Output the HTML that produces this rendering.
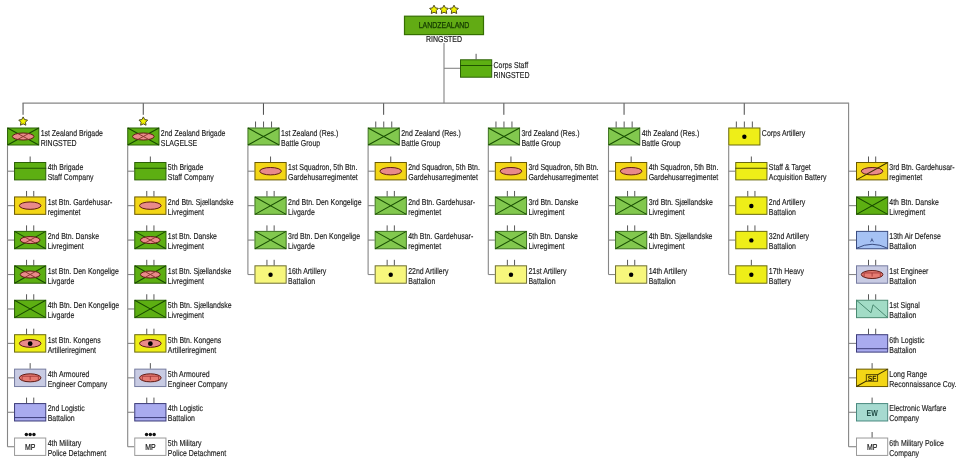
<!DOCTYPE html>
<html><head><meta charset="utf-8"><style>
html,body{margin:0;padding:0;background:#fff;width:960px;height:465px;overflow:hidden}
svg{display:block;will-change:transform}
text{font-family:"Liberation Sans",sans-serif;text-rendering:geometricPrecision}
</style></head><body>
<svg width="960" height="465" viewBox="0 0 960 465">
<line x1="444" y1="43" x2="444" y2="103.3" stroke="#969696" stroke-width="1.3"/>
<line x1="444.00" y1="68.30" x2="460.00" y2="68.30" stroke="#868686" stroke-width="1.1"/>
<line x1="22.45" y1="103.10" x2="849.10" y2="103.10" stroke="#868686" stroke-width="1.3"/>
<line x1="848.60" y1="103.30" x2="848.60" y2="446.72" stroke="#868686" stroke-width="1.1"/>
<line x1="848.60" y1="171.20" x2="856.00" y2="171.20" stroke="#868686" stroke-width="1.1"/>
<line x1="848.60" y1="205.64" x2="856.00" y2="205.64" stroke="#868686" stroke-width="1.1"/>
<line x1="848.60" y1="240.08" x2="856.00" y2="240.08" stroke="#868686" stroke-width="1.1"/>
<line x1="848.60" y1="274.52" x2="856.00" y2="274.52" stroke="#868686" stroke-width="1.1"/>
<line x1="848.60" y1="308.96" x2="856.00" y2="308.96" stroke="#868686" stroke-width="1.1"/>
<line x1="848.60" y1="343.40" x2="856.00" y2="343.40" stroke="#868686" stroke-width="1.1"/>
<line x1="848.60" y1="377.84" x2="856.00" y2="377.84" stroke="#868686" stroke-width="1.1"/>
<line x1="848.60" y1="412.28" x2="856.00" y2="412.28" stroke="#868686" stroke-width="1.1"/>
<line x1="848.60" y1="446.72" x2="856.00" y2="446.72" stroke="#868686" stroke-width="1.1"/>
<line x1="23.05" y1="103.3" x2="23.05" y2="114.8" stroke="#4a4a4a" stroke-width="1"/>
<line x1="7.50" y1="145.50" x2="7.50" y2="446.72" stroke="#868686" stroke-width="1.1"/>
<line x1="7.50" y1="171.20" x2="14.05" y2="171.20" stroke="#868686" stroke-width="1.1"/>
<line x1="7.50" y1="205.64" x2="14.05" y2="205.64" stroke="#868686" stroke-width="1.1"/>
<line x1="7.50" y1="240.08" x2="14.05" y2="240.08" stroke="#868686" stroke-width="1.1"/>
<line x1="7.50" y1="274.52" x2="14.05" y2="274.52" stroke="#868686" stroke-width="1.1"/>
<line x1="7.50" y1="308.96" x2="14.05" y2="308.96" stroke="#868686" stroke-width="1.1"/>
<line x1="7.50" y1="343.40" x2="14.05" y2="343.40" stroke="#868686" stroke-width="1.1"/>
<line x1="7.50" y1="377.84" x2="14.05" y2="377.84" stroke="#868686" stroke-width="1.1"/>
<line x1="7.50" y1="412.28" x2="14.05" y2="412.28" stroke="#868686" stroke-width="1.1"/>
<line x1="7.50" y1="446.72" x2="14.05" y2="446.72" stroke="#868686" stroke-width="1.1"/>
<line x1="143.25" y1="103.3" x2="143.25" y2="114.8" stroke="#4a4a4a" stroke-width="1"/>
<line x1="127.70" y1="145.50" x2="127.70" y2="446.72" stroke="#868686" stroke-width="1.1"/>
<line x1="127.70" y1="171.20" x2="134.25" y2="171.20" stroke="#868686" stroke-width="1.1"/>
<line x1="127.70" y1="205.64" x2="134.25" y2="205.64" stroke="#868686" stroke-width="1.1"/>
<line x1="127.70" y1="240.08" x2="134.25" y2="240.08" stroke="#868686" stroke-width="1.1"/>
<line x1="127.70" y1="274.52" x2="134.25" y2="274.52" stroke="#868686" stroke-width="1.1"/>
<line x1="127.70" y1="308.96" x2="134.25" y2="308.96" stroke="#868686" stroke-width="1.1"/>
<line x1="127.70" y1="343.40" x2="134.25" y2="343.40" stroke="#868686" stroke-width="1.1"/>
<line x1="127.70" y1="377.84" x2="134.25" y2="377.84" stroke="#868686" stroke-width="1.1"/>
<line x1="127.70" y1="412.28" x2="134.25" y2="412.28" stroke="#868686" stroke-width="1.1"/>
<line x1="127.70" y1="446.72" x2="134.25" y2="446.72" stroke="#868686" stroke-width="1.1"/>
<line x1="263.45" y1="103.3" x2="263.45" y2="114.8" stroke="#4a4a4a" stroke-width="1"/>
<line x1="247.90" y1="145.50" x2="247.90" y2="274.52" stroke="#868686" stroke-width="1.1"/>
<line x1="247.90" y1="171.20" x2="254.45" y2="171.20" stroke="#868686" stroke-width="1.1"/>
<line x1="247.90" y1="205.64" x2="254.45" y2="205.64" stroke="#868686" stroke-width="1.1"/>
<line x1="247.90" y1="240.08" x2="254.45" y2="240.08" stroke="#868686" stroke-width="1.1"/>
<line x1="247.90" y1="274.52" x2="254.45" y2="274.52" stroke="#868686" stroke-width="1.1"/>
<line x1="383.65" y1="103.3" x2="383.65" y2="114.8" stroke="#4a4a4a" stroke-width="1"/>
<line x1="368.10" y1="145.50" x2="368.10" y2="274.52" stroke="#868686" stroke-width="1.1"/>
<line x1="368.10" y1="171.20" x2="374.65" y2="171.20" stroke="#868686" stroke-width="1.1"/>
<line x1="368.10" y1="205.64" x2="374.65" y2="205.64" stroke="#868686" stroke-width="1.1"/>
<line x1="368.10" y1="240.08" x2="374.65" y2="240.08" stroke="#868686" stroke-width="1.1"/>
<line x1="368.10" y1="274.52" x2="374.65" y2="274.52" stroke="#868686" stroke-width="1.1"/>
<line x1="503.85" y1="103.3" x2="503.85" y2="114.8" stroke="#4a4a4a" stroke-width="1"/>
<line x1="488.30" y1="145.50" x2="488.30" y2="274.52" stroke="#868686" stroke-width="1.1"/>
<line x1="488.30" y1="171.20" x2="494.85" y2="171.20" stroke="#868686" stroke-width="1.1"/>
<line x1="488.30" y1="205.64" x2="494.85" y2="205.64" stroke="#868686" stroke-width="1.1"/>
<line x1="488.30" y1="240.08" x2="494.85" y2="240.08" stroke="#868686" stroke-width="1.1"/>
<line x1="488.30" y1="274.52" x2="494.85" y2="274.52" stroke="#868686" stroke-width="1.1"/>
<line x1="624.05" y1="103.3" x2="624.05" y2="114.8" stroke="#4a4a4a" stroke-width="1"/>
<line x1="608.50" y1="145.50" x2="608.50" y2="274.52" stroke="#868686" stroke-width="1.1"/>
<line x1="608.50" y1="171.20" x2="615.05" y2="171.20" stroke="#868686" stroke-width="1.1"/>
<line x1="608.50" y1="205.64" x2="615.05" y2="205.64" stroke="#868686" stroke-width="1.1"/>
<line x1="608.50" y1="240.08" x2="615.05" y2="240.08" stroke="#868686" stroke-width="1.1"/>
<line x1="608.50" y1="274.52" x2="615.05" y2="274.52" stroke="#868686" stroke-width="1.1"/>
<line x1="744.25" y1="103.3" x2="744.25" y2="114.8" stroke="#4a4a4a" stroke-width="1"/>
<line x1="728.70" y1="145.50" x2="728.70" y2="274.52" stroke="#868686" stroke-width="1.1"/>
<line x1="728.70" y1="171.20" x2="735.25" y2="171.20" stroke="#868686" stroke-width="1.1"/>
<line x1="728.70" y1="205.64" x2="735.25" y2="205.64" stroke="#868686" stroke-width="1.1"/>
<line x1="728.70" y1="240.08" x2="735.25" y2="240.08" stroke="#868686" stroke-width="1.1"/>
<line x1="728.70" y1="274.52" x2="735.25" y2="274.52" stroke="#868686" stroke-width="1.1"/>
<polygon points="434.00,5.20 435.41,7.86 438.37,8.38 436.27,10.54 436.70,13.52 434.00,12.19 431.30,13.52 431.73,10.54 429.63,8.38 432.59,7.86" fill="#f0f000" stroke="#4e4a24" stroke-width="1" stroke-linejoin="miter"/>
<polygon points="444.00,5.20 445.41,7.86 448.37,8.38 446.27,10.54 446.70,13.52 444.00,12.19 441.30,13.52 441.73,10.54 439.63,8.38 442.59,7.86" fill="#f0f000" stroke="#4e4a24" stroke-width="1" stroke-linejoin="miter"/>
<polygon points="454.00,5.20 455.41,7.86 458.37,8.38 456.27,10.54 456.70,13.52 454.00,12.19 451.30,13.52 451.73,10.54 449.63,8.38 452.59,7.86" fill="#f0f000" stroke="#4e4a24" stroke-width="1" stroke-linejoin="miter"/>
<rect x="404.5" y="16.2" width="79" height="18.4" fill="#62ab14" stroke="#356f00" stroke-width="1.2"/>
<text transform="translate(444,28.1) scale(0.81,1)" font-size="8.6" fill="#143a00" stroke="#143a00" stroke-width="0.25" text-anchor="middle">LANDZEALAND</text>
<text transform="translate(444,42) scale(0.81,1)" font-size="8.6" fill="#1e1e1e" stroke="#1e1e1e" stroke-width="0.22" text-anchor="middle">RINGSTED</text>
<rect x="460.50" y="59.80" width="31.20" height="17.40" fill="#5daf12" stroke="#2c6206" stroke-width="1"/>
<line x1="460.00" y1="65.50" x2="492.20" y2="65.50" stroke="#1f5200" stroke-width="1.1"/>
<line x1="476.10" y1="53.80" x2="476.10" y2="59.30" stroke="#3a3a3a" stroke-width="0.85"/>
<text transform="translate(493.50,67.80) scale(0.81,1)" font-size="8.6" fill="#1e1e1e" stroke="#1e1e1e" stroke-width="0.16" text-anchor="start">Corps Staff</text>
<text transform="translate(493.50,77.80) scale(0.81,1)" font-size="8.6" fill="#1e1e1e" stroke="#1e1e1e" stroke-width="0.16" text-anchor="start">RINGSTED</text>
<rect x="7.55" y="128.00" width="31.20" height="17.00" fill="#5daf12" stroke="#2c6206" stroke-width="1"/>
<path d="M7.55,128.00L38.75,145.00M7.55,145.00L38.75,128.00" stroke="#184a00" stroke-width="1.05"/>
<ellipse cx="23.15" cy="136.50" rx="10.8" ry="3.5" fill="#e98a8a" stroke="#5e1a14" stroke-width="1"/>
<path d="M17.63,133.49L28.67,139.51M17.63,139.51L28.67,133.49" stroke="#8a3a30" stroke-width="1"/>
<polygon points="23.15,116.90 24.56,119.56 27.52,120.08 25.42,122.24 25.85,125.22 23.15,123.89 20.45,125.22 20.88,122.24 18.78,120.08 21.74,119.56" fill="#f0f000" stroke="#4e4a24" stroke-width="1" stroke-linejoin="miter"/>
<text transform="translate(40.65,135.80) scale(0.81,1)" font-size="8.6" fill="#1e1e1e" stroke="#1e1e1e" stroke-width="0.16" text-anchor="start">1st Zealand Brigade</text>
<text transform="translate(40.65,145.80) scale(0.81,1)" font-size="8.6" fill="#1e1e1e" stroke="#1e1e1e" stroke-width="0.16" text-anchor="start">RINGSTED</text>
<rect x="14.55" y="162.50" width="31.20" height="17.40" fill="#5daf12" stroke="#2c6206" stroke-width="1"/>
<line x1="14.05" y1="168.20" x2="46.25" y2="168.20" stroke="#1f5200" stroke-width="1.1"/>
<line x1="30.15" y1="156.50" x2="30.15" y2="162.00" stroke="#3a3a3a" stroke-width="0.85"/>
<text transform="translate(47.65,170.40) scale(0.81,1)" font-size="8.6" fill="#1e1e1e" stroke="#1e1e1e" stroke-width="0.16" text-anchor="start">4th Brigade</text>
<text transform="translate(47.65,180.40) scale(0.81,1)" font-size="8.6" fill="#1e1e1e" stroke="#1e1e1e" stroke-width="0.16" text-anchor="start">Staff Company</text>
<rect x="14.55" y="196.94" width="31.20" height="17.40" fill="#f3d616" stroke="#6a5a00" stroke-width="1"/>
<ellipse cx="30.15" cy="205.64" rx="10.8" ry="3.7" fill="#e98a8a" stroke="#5e1a14" stroke-width="1"/>
<line x1="26.55" y1="190.94" x2="26.55" y2="196.44" stroke="#3a3a3a" stroke-width="0.85"/>
<line x1="33.75" y1="190.94" x2="33.75" y2="196.44" stroke="#3a3a3a" stroke-width="0.85"/>
<text transform="translate(47.65,204.84) scale(0.81,1)" font-size="8.6" fill="#1e1e1e" stroke="#1e1e1e" stroke-width="0.16" text-anchor="start">1st Btn. Gardehusar-</text>
<text transform="translate(47.65,214.84) scale(0.81,1)" font-size="8.6" fill="#1e1e1e" stroke="#1e1e1e" stroke-width="0.16" text-anchor="start">regimentet</text>
<rect x="14.55" y="231.38" width="31.20" height="17.40" fill="#5daf12" stroke="#2c6206" stroke-width="1"/>
<path d="M14.55,231.38L45.75,248.78M14.55,248.78L45.75,231.38" stroke="#184a00" stroke-width="1.05"/>
<ellipse cx="30.15" cy="240.08" rx="9.9" ry="3.5" fill="#e98a8a" stroke="#5e1a14" stroke-width="1"/>
<path d="M24.85,237.12L35.45,243.04M24.85,243.04L35.45,237.12" stroke="#8a3a30" stroke-width="1"/>
<line x1="26.55" y1="225.38" x2="26.55" y2="230.88" stroke="#3a3a3a" stroke-width="0.85"/>
<line x1="33.75" y1="225.38" x2="33.75" y2="230.88" stroke="#3a3a3a" stroke-width="0.85"/>
<text transform="translate(47.65,239.28) scale(0.81,1)" font-size="8.6" fill="#1e1e1e" stroke="#1e1e1e" stroke-width="0.16" text-anchor="start">2nd Btn. Danske</text>
<text transform="translate(47.65,249.28) scale(0.81,1)" font-size="8.6" fill="#1e1e1e" stroke="#1e1e1e" stroke-width="0.16" text-anchor="start">Livregiment</text>
<rect x="14.55" y="265.82" width="31.20" height="17.40" fill="#5daf12" stroke="#2c6206" stroke-width="1"/>
<path d="M14.55,265.82L45.75,283.22M14.55,283.22L45.75,265.82" stroke="#184a00" stroke-width="1.05"/>
<ellipse cx="30.15" cy="274.52" rx="9.9" ry="3.5" fill="#e98a8a" stroke="#5e1a14" stroke-width="1"/>
<path d="M24.85,271.56L35.45,277.48M24.85,277.48L35.45,271.56" stroke="#8a3a30" stroke-width="1"/>
<line x1="26.55" y1="259.82" x2="26.55" y2="265.32" stroke="#3a3a3a" stroke-width="0.85"/>
<line x1="33.75" y1="259.82" x2="33.75" y2="265.32" stroke="#3a3a3a" stroke-width="0.85"/>
<text transform="translate(47.65,273.72) scale(0.81,1)" font-size="8.6" fill="#1e1e1e" stroke="#1e1e1e" stroke-width="0.16" text-anchor="start">1st Btn. Den Kongelige</text>
<text transform="translate(47.65,283.72) scale(0.81,1)" font-size="8.6" fill="#1e1e1e" stroke="#1e1e1e" stroke-width="0.16" text-anchor="start">Livgarde</text>
<rect x="14.55" y="300.26" width="31.20" height="17.40" fill="#5daf12" stroke="#2c6206" stroke-width="1"/>
<path d="M14.55,300.26L45.75,317.66M14.55,317.66L45.75,300.26" stroke="#184a00" stroke-width="1.05"/>
<line x1="26.55" y1="294.26" x2="26.55" y2="299.76" stroke="#3a3a3a" stroke-width="0.85"/>
<line x1="33.75" y1="294.26" x2="33.75" y2="299.76" stroke="#3a3a3a" stroke-width="0.85"/>
<text transform="translate(47.65,308.16) scale(0.81,1)" font-size="8.6" fill="#1e1e1e" stroke="#1e1e1e" stroke-width="0.16" text-anchor="start">4th Btn. Den Kongelige</text>
<text transform="translate(47.65,318.16) scale(0.81,1)" font-size="8.6" fill="#1e1e1e" stroke="#1e1e1e" stroke-width="0.16" text-anchor="start">Livgarde</text>
<rect x="14.55" y="334.70" width="31.20" height="17.40" fill="#eeee18" stroke="#6a6a10" stroke-width="1"/>
<ellipse cx="30.15" cy="343.40" rx="10.8" ry="3.9" fill="#e98a8a" stroke="#5e1a14" stroke-width="1"/>
<circle cx="30.15" cy="343.70" r="2.4" fill="#000"/>
<line x1="26.55" y1="328.70" x2="26.55" y2="334.20" stroke="#3a3a3a" stroke-width="0.85"/>
<line x1="33.75" y1="328.70" x2="33.75" y2="334.20" stroke="#3a3a3a" stroke-width="0.85"/>
<text transform="translate(47.65,342.60) scale(0.81,1)" font-size="8.6" fill="#1e1e1e" stroke="#1e1e1e" stroke-width="0.16" text-anchor="start">1st Btn. Kongens</text>
<text transform="translate(47.65,352.60) scale(0.81,1)" font-size="8.6" fill="#1e1e1e" stroke="#1e1e1e" stroke-width="0.16" text-anchor="start">Artilleriregiment</text>
<rect x="14.55" y="369.14" width="31.20" height="17.40" fill="#c8cbe3" stroke="#767ca0" stroke-width="1"/>
<ellipse cx="30.15" cy="377.84" rx="10.8" ry="4" fill="#e67c72" stroke="#5e1a14" stroke-width="1"/>
<path d="M22.15,380.34V376.24H38.35V380.34M30.15,376.24V379.84" fill="none" stroke="#9a3030" stroke-width="0.8"/>
<line x1="30.15" y1="363.14" x2="30.15" y2="368.64" stroke="#3a3a3a" stroke-width="0.85"/>
<text transform="translate(47.65,377.04) scale(0.81,1)" font-size="8.6" fill="#1e1e1e" stroke="#1e1e1e" stroke-width="0.16" text-anchor="start">4th Armoured</text>
<text transform="translate(47.65,387.04) scale(0.81,1)" font-size="8.6" fill="#1e1e1e" stroke="#1e1e1e" stroke-width="0.16" text-anchor="start">Engineer Company</text>
<rect x="14.55" y="403.58" width="31.20" height="17.40" fill="#a9abef" stroke="#3c3c7a" stroke-width="1"/>
<line x1="14.05" y1="417.58" x2="46.25" y2="417.58" stroke="#3c3c7a" stroke-width="1"/>
<line x1="26.55" y1="397.58" x2="26.55" y2="403.08" stroke="#3a3a3a" stroke-width="0.85"/>
<line x1="33.75" y1="397.58" x2="33.75" y2="403.08" stroke="#3a3a3a" stroke-width="0.85"/>
<text transform="translate(47.65,411.48) scale(0.81,1)" font-size="8.6" fill="#1e1e1e" stroke="#1e1e1e" stroke-width="0.16" text-anchor="start">2nd Logistic</text>
<text transform="translate(47.65,421.48) scale(0.81,1)" font-size="8.6" fill="#1e1e1e" stroke="#1e1e1e" stroke-width="0.16" text-anchor="start">Battalion</text>
<rect x="14.55" y="438.02" width="31.20" height="17.40" fill="#ffffff" stroke="#9a9a9a" stroke-width="1"/>
<text transform="translate(30.15,450.12) scale(0.81,1)" font-size="8.6" fill="#1e1e1e" stroke="#1e1e1e" stroke-width="0.22" text-anchor="middle">MP</text>
<circle cx="26.35" cy="434.52" r="1.7" fill="#111"/>
<circle cx="30.15" cy="434.52" r="1.7" fill="#111"/>
<circle cx="33.95" cy="434.52" r="1.7" fill="#111"/>
<text transform="translate(47.65,445.92) scale(0.81,1)" font-size="8.6" fill="#1e1e1e" stroke="#1e1e1e" stroke-width="0.16" text-anchor="start">4th Military</text>
<text transform="translate(47.65,455.92) scale(0.81,1)" font-size="8.6" fill="#1e1e1e" stroke="#1e1e1e" stroke-width="0.16" text-anchor="start">Police Detachment</text>
<rect x="127.75" y="128.00" width="31.20" height="17.00" fill="#5daf12" stroke="#2c6206" stroke-width="1"/>
<path d="M127.75,128.00L158.95,145.00M127.75,145.00L158.95,128.00" stroke="#184a00" stroke-width="1.05"/>
<ellipse cx="143.35" cy="136.50" rx="10.8" ry="3.5" fill="#e98a8a" stroke="#5e1a14" stroke-width="1"/>
<path d="M137.83,133.49L148.87,139.51M137.83,139.51L148.87,133.49" stroke="#8a3a30" stroke-width="1"/>
<polygon points="143.35,116.90 144.76,119.56 147.72,120.08 145.62,122.24 146.05,125.22 143.35,123.89 140.65,125.22 141.08,122.24 138.98,120.08 141.94,119.56" fill="#f0f000" stroke="#4e4a24" stroke-width="1" stroke-linejoin="miter"/>
<text transform="translate(160.85,135.80) scale(0.81,1)" font-size="8.6" fill="#1e1e1e" stroke="#1e1e1e" stroke-width="0.16" text-anchor="start">2nd Zealand Brigade</text>
<text transform="translate(160.85,145.80) scale(0.81,1)" font-size="8.6" fill="#1e1e1e" stroke="#1e1e1e" stroke-width="0.16" text-anchor="start">SLAGELSE</text>
<rect x="134.75" y="162.50" width="31.20" height="17.40" fill="#5daf12" stroke="#2c6206" stroke-width="1"/>
<line x1="134.25" y1="168.20" x2="166.45" y2="168.20" stroke="#1f5200" stroke-width="1.1"/>
<line x1="150.35" y1="156.50" x2="150.35" y2="162.00" stroke="#3a3a3a" stroke-width="0.85"/>
<text transform="translate(167.85,170.40) scale(0.81,1)" font-size="8.6" fill="#1e1e1e" stroke="#1e1e1e" stroke-width="0.16" text-anchor="start">5th Brigade</text>
<text transform="translate(167.85,180.40) scale(0.81,1)" font-size="8.6" fill="#1e1e1e" stroke="#1e1e1e" stroke-width="0.16" text-anchor="start">Staff Company</text>
<rect x="134.75" y="196.94" width="31.20" height="17.40" fill="#f3d616" stroke="#6a5a00" stroke-width="1"/>
<ellipse cx="150.35" cy="205.64" rx="10.8" ry="3.7" fill="#e98a8a" stroke="#5e1a14" stroke-width="1"/>
<line x1="146.75" y1="190.94" x2="146.75" y2="196.44" stroke="#3a3a3a" stroke-width="0.85"/>
<line x1="153.95" y1="190.94" x2="153.95" y2="196.44" stroke="#3a3a3a" stroke-width="0.85"/>
<text transform="translate(167.85,204.84) scale(0.81,1)" font-size="8.6" fill="#1e1e1e" stroke="#1e1e1e" stroke-width="0.16" text-anchor="start">2nd Btn. Sjællandske</text>
<text transform="translate(167.85,214.84) scale(0.81,1)" font-size="8.6" fill="#1e1e1e" stroke="#1e1e1e" stroke-width="0.16" text-anchor="start">Livregiment</text>
<rect x="134.75" y="231.38" width="31.20" height="17.40" fill="#5daf12" stroke="#2c6206" stroke-width="1"/>
<path d="M134.75,231.38L165.95,248.78M134.75,248.78L165.95,231.38" stroke="#184a00" stroke-width="1.05"/>
<ellipse cx="150.35" cy="240.08" rx="9.9" ry="3.5" fill="#e98a8a" stroke="#5e1a14" stroke-width="1"/>
<path d="M145.05,237.12L155.65,243.04M145.05,243.04L155.65,237.12" stroke="#8a3a30" stroke-width="1"/>
<line x1="146.75" y1="225.38" x2="146.75" y2="230.88" stroke="#3a3a3a" stroke-width="0.85"/>
<line x1="153.95" y1="225.38" x2="153.95" y2="230.88" stroke="#3a3a3a" stroke-width="0.85"/>
<text transform="translate(167.85,239.28) scale(0.81,1)" font-size="8.6" fill="#1e1e1e" stroke="#1e1e1e" stroke-width="0.16" text-anchor="start">1st Btn. Danske</text>
<text transform="translate(167.85,249.28) scale(0.81,1)" font-size="8.6" fill="#1e1e1e" stroke="#1e1e1e" stroke-width="0.16" text-anchor="start">Livregiment</text>
<rect x="134.75" y="265.82" width="31.20" height="17.40" fill="#5daf12" stroke="#2c6206" stroke-width="1"/>
<path d="M134.75,265.82L165.95,283.22M134.75,283.22L165.95,265.82" stroke="#184a00" stroke-width="1.05"/>
<ellipse cx="150.35" cy="274.52" rx="9.9" ry="3.5" fill="#e98a8a" stroke="#5e1a14" stroke-width="1"/>
<path d="M145.05,271.56L155.65,277.48M145.05,277.48L155.65,271.56" stroke="#8a3a30" stroke-width="1"/>
<line x1="146.75" y1="259.82" x2="146.75" y2="265.32" stroke="#3a3a3a" stroke-width="0.85"/>
<line x1="153.95" y1="259.82" x2="153.95" y2="265.32" stroke="#3a3a3a" stroke-width="0.85"/>
<text transform="translate(167.85,273.72) scale(0.81,1)" font-size="8.6" fill="#1e1e1e" stroke="#1e1e1e" stroke-width="0.16" text-anchor="start">1st Btn. Sjællandske</text>
<text transform="translate(167.85,283.72) scale(0.81,1)" font-size="8.6" fill="#1e1e1e" stroke="#1e1e1e" stroke-width="0.16" text-anchor="start">Livregiment</text>
<rect x="134.75" y="300.26" width="31.20" height="17.40" fill="#5daf12" stroke="#2c6206" stroke-width="1"/>
<path d="M134.75,300.26L165.95,317.66M134.75,317.66L165.95,300.26" stroke="#184a00" stroke-width="1.05"/>
<line x1="146.75" y1="294.26" x2="146.75" y2="299.76" stroke="#3a3a3a" stroke-width="0.85"/>
<line x1="153.95" y1="294.26" x2="153.95" y2="299.76" stroke="#3a3a3a" stroke-width="0.85"/>
<text transform="translate(167.85,308.16) scale(0.81,1)" font-size="8.6" fill="#1e1e1e" stroke="#1e1e1e" stroke-width="0.16" text-anchor="start">5th Btn. Sjællandske</text>
<text transform="translate(167.85,318.16) scale(0.81,1)" font-size="8.6" fill="#1e1e1e" stroke="#1e1e1e" stroke-width="0.16" text-anchor="start">Livregiment</text>
<rect x="134.75" y="334.70" width="31.20" height="17.40" fill="#eeee18" stroke="#6a6a10" stroke-width="1"/>
<ellipse cx="150.35" cy="343.40" rx="10.8" ry="3.9" fill="#e98a8a" stroke="#5e1a14" stroke-width="1"/>
<circle cx="150.35" cy="343.70" r="2.4" fill="#000"/>
<line x1="146.75" y1="328.70" x2="146.75" y2="334.20" stroke="#3a3a3a" stroke-width="0.85"/>
<line x1="153.95" y1="328.70" x2="153.95" y2="334.20" stroke="#3a3a3a" stroke-width="0.85"/>
<text transform="translate(167.85,342.60) scale(0.81,1)" font-size="8.6" fill="#1e1e1e" stroke="#1e1e1e" stroke-width="0.16" text-anchor="start">5th Btn. Kongens</text>
<text transform="translate(167.85,352.60) scale(0.81,1)" font-size="8.6" fill="#1e1e1e" stroke="#1e1e1e" stroke-width="0.16" text-anchor="start">Artilleriregiment</text>
<rect x="134.75" y="369.14" width="31.20" height="17.40" fill="#c8cbe3" stroke="#767ca0" stroke-width="1"/>
<ellipse cx="150.35" cy="377.84" rx="10.8" ry="4" fill="#e67c72" stroke="#5e1a14" stroke-width="1"/>
<path d="M142.35,380.34V376.24H158.55V380.34M150.35,376.24V379.84" fill="none" stroke="#9a3030" stroke-width="0.8"/>
<line x1="150.35" y1="363.14" x2="150.35" y2="368.64" stroke="#3a3a3a" stroke-width="0.85"/>
<text transform="translate(167.85,377.04) scale(0.81,1)" font-size="8.6" fill="#1e1e1e" stroke="#1e1e1e" stroke-width="0.16" text-anchor="start">5th Armoured</text>
<text transform="translate(167.85,387.04) scale(0.81,1)" font-size="8.6" fill="#1e1e1e" stroke="#1e1e1e" stroke-width="0.16" text-anchor="start">Engineer Company</text>
<rect x="134.75" y="403.58" width="31.20" height="17.40" fill="#a9abef" stroke="#3c3c7a" stroke-width="1"/>
<line x1="134.25" y1="417.58" x2="166.45" y2="417.58" stroke="#3c3c7a" stroke-width="1"/>
<line x1="146.75" y1="397.58" x2="146.75" y2="403.08" stroke="#3a3a3a" stroke-width="0.85"/>
<line x1="153.95" y1="397.58" x2="153.95" y2="403.08" stroke="#3a3a3a" stroke-width="0.85"/>
<text transform="translate(167.85,411.48) scale(0.81,1)" font-size="8.6" fill="#1e1e1e" stroke="#1e1e1e" stroke-width="0.16" text-anchor="start">4th Logistic</text>
<text transform="translate(167.85,421.48) scale(0.81,1)" font-size="8.6" fill="#1e1e1e" stroke="#1e1e1e" stroke-width="0.16" text-anchor="start">Battalion</text>
<rect x="134.75" y="438.02" width="31.20" height="17.40" fill="#ffffff" stroke="#9a9a9a" stroke-width="1"/>
<text transform="translate(150.35,450.12) scale(0.81,1)" font-size="8.6" fill="#1e1e1e" stroke="#1e1e1e" stroke-width="0.22" text-anchor="middle">MP</text>
<circle cx="146.55" cy="434.52" r="1.7" fill="#111"/>
<circle cx="150.35" cy="434.52" r="1.7" fill="#111"/>
<circle cx="154.15" cy="434.52" r="1.7" fill="#111"/>
<text transform="translate(167.85,445.92) scale(0.81,1)" font-size="8.6" fill="#1e1e1e" stroke="#1e1e1e" stroke-width="0.16" text-anchor="start">5th Military</text>
<text transform="translate(167.85,455.92) scale(0.81,1)" font-size="8.6" fill="#1e1e1e" stroke="#1e1e1e" stroke-width="0.16" text-anchor="start">Police Detachment</text>
<rect x="247.95" y="128.00" width="31.20" height="17.00" fill="#82c84e" stroke="#3f7222" stroke-width="1"/>
<path d="M247.95,128.00L279.15,145.00M247.95,145.00L279.15,128.00" stroke="#1a5004" stroke-width="1.05"/>
<line x1="255.55" y1="121.50" x2="255.55" y2="127.50" stroke="#3a3a3a" stroke-width="0.85"/>
<line x1="263.55" y1="121.50" x2="263.55" y2="127.50" stroke="#3a3a3a" stroke-width="0.85"/>
<line x1="271.55" y1="121.50" x2="271.55" y2="127.50" stroke="#3a3a3a" stroke-width="0.85"/>
<text transform="translate(281.05,135.80) scale(0.81,1)" font-size="8.6" fill="#1e1e1e" stroke="#1e1e1e" stroke-width="0.16" text-anchor="start">1st Zealand (Res.)</text>
<text transform="translate(281.05,145.80) scale(0.81,1)" font-size="8.6" fill="#1e1e1e" stroke="#1e1e1e" stroke-width="0.16" text-anchor="start">Battle Group</text>
<rect x="254.95" y="162.50" width="31.20" height="17.40" fill="#f3d616" stroke="#6a5a00" stroke-width="1"/>
<ellipse cx="270.55" cy="171.20" rx="10.8" ry="3.7" fill="#e98a8a" stroke="#5e1a14" stroke-width="1"/>
<line x1="270.55" y1="156.50" x2="270.55" y2="162.00" stroke="#3a3a3a" stroke-width="0.85"/>
<text transform="translate(288.05,170.40) scale(0.81,1)" font-size="8.6" fill="#1e1e1e" stroke="#1e1e1e" stroke-width="0.16" text-anchor="start">1st Squadron, 5th Btn.</text>
<text transform="translate(288.05,180.40) scale(0.81,1)" font-size="8.6" fill="#1e1e1e" stroke="#1e1e1e" stroke-width="0.16" text-anchor="start">Gardehusarregimentet</text>
<rect x="254.95" y="196.94" width="31.20" height="17.40" fill="#82c84e" stroke="#3f7222" stroke-width="1"/>
<path d="M254.95,196.94L286.15,214.34M254.95,214.34L286.15,196.94" stroke="#1a5004" stroke-width="1.05"/>
<line x1="266.95" y1="190.94" x2="266.95" y2="196.44" stroke="#3a3a3a" stroke-width="0.85"/>
<line x1="274.15" y1="190.94" x2="274.15" y2="196.44" stroke="#3a3a3a" stroke-width="0.85"/>
<text transform="translate(288.05,204.84) scale(0.81,1)" font-size="8.6" fill="#1e1e1e" stroke="#1e1e1e" stroke-width="0.16" text-anchor="start">2nd Btn. Den Kongelige</text>
<text transform="translate(288.05,214.84) scale(0.81,1)" font-size="8.6" fill="#1e1e1e" stroke="#1e1e1e" stroke-width="0.16" text-anchor="start">Livgarde</text>
<rect x="254.95" y="231.38" width="31.20" height="17.40" fill="#82c84e" stroke="#3f7222" stroke-width="1"/>
<path d="M254.95,231.38L286.15,248.78M254.95,248.78L286.15,231.38" stroke="#1a5004" stroke-width="1.05"/>
<line x1="266.95" y1="225.38" x2="266.95" y2="230.88" stroke="#3a3a3a" stroke-width="0.85"/>
<line x1="274.15" y1="225.38" x2="274.15" y2="230.88" stroke="#3a3a3a" stroke-width="0.85"/>
<text transform="translate(288.05,239.28) scale(0.81,1)" font-size="8.6" fill="#1e1e1e" stroke="#1e1e1e" stroke-width="0.16" text-anchor="start">3rd Btn. Den Kongelige</text>
<text transform="translate(288.05,249.28) scale(0.81,1)" font-size="8.6" fill="#1e1e1e" stroke="#1e1e1e" stroke-width="0.16" text-anchor="start">Livgarde</text>
<rect x="254.95" y="265.82" width="31.20" height="17.40" fill="#f7f77c" stroke="#6e6e34" stroke-width="1"/>
<circle cx="270.55" cy="274.82" r="2.2" fill="#000"/>
<line x1="266.95" y1="259.82" x2="266.95" y2="265.32" stroke="#3a3a3a" stroke-width="0.85"/>
<line x1="274.15" y1="259.82" x2="274.15" y2="265.32" stroke="#3a3a3a" stroke-width="0.85"/>
<text transform="translate(288.05,273.72) scale(0.81,1)" font-size="8.6" fill="#1e1e1e" stroke="#1e1e1e" stroke-width="0.16" text-anchor="start">16th Artillery</text>
<text transform="translate(288.05,283.72) scale(0.81,1)" font-size="8.6" fill="#1e1e1e" stroke="#1e1e1e" stroke-width="0.16" text-anchor="start">Battalion</text>
<rect x="368.15" y="128.00" width="31.20" height="17.00" fill="#82c84e" stroke="#3f7222" stroke-width="1"/>
<path d="M368.15,128.00L399.35,145.00M368.15,145.00L399.35,128.00" stroke="#1a5004" stroke-width="1.05"/>
<line x1="375.75" y1="121.50" x2="375.75" y2="127.50" stroke="#3a3a3a" stroke-width="0.85"/>
<line x1="383.75" y1="121.50" x2="383.75" y2="127.50" stroke="#3a3a3a" stroke-width="0.85"/>
<line x1="391.75" y1="121.50" x2="391.75" y2="127.50" stroke="#3a3a3a" stroke-width="0.85"/>
<text transform="translate(401.25,135.80) scale(0.81,1)" font-size="8.6" fill="#1e1e1e" stroke="#1e1e1e" stroke-width="0.16" text-anchor="start">2nd Zealand (Res.)</text>
<text transform="translate(401.25,145.80) scale(0.81,1)" font-size="8.6" fill="#1e1e1e" stroke="#1e1e1e" stroke-width="0.16" text-anchor="start">Battle Group</text>
<rect x="375.15" y="162.50" width="31.20" height="17.40" fill="#f3d616" stroke="#6a5a00" stroke-width="1"/>
<ellipse cx="390.75" cy="171.20" rx="10.8" ry="3.7" fill="#e98a8a" stroke="#5e1a14" stroke-width="1"/>
<line x1="390.75" y1="156.50" x2="390.75" y2="162.00" stroke="#3a3a3a" stroke-width="0.85"/>
<text transform="translate(408.25,170.40) scale(0.81,1)" font-size="8.6" fill="#1e1e1e" stroke="#1e1e1e" stroke-width="0.16" text-anchor="start">2nd Squadron, 5th Btn.</text>
<text transform="translate(408.25,180.40) scale(0.81,1)" font-size="8.6" fill="#1e1e1e" stroke="#1e1e1e" stroke-width="0.16" text-anchor="start">Gardehusarregimentet</text>
<rect x="375.15" y="196.94" width="31.20" height="17.40" fill="#82c84e" stroke="#3f7222" stroke-width="1"/>
<path d="M375.15,196.94L406.35,214.34M375.15,214.34L406.35,196.94" stroke="#1a5004" stroke-width="1.05"/>
<line x1="387.15" y1="190.94" x2="387.15" y2="196.44" stroke="#3a3a3a" stroke-width="0.85"/>
<line x1="394.35" y1="190.94" x2="394.35" y2="196.44" stroke="#3a3a3a" stroke-width="0.85"/>
<text transform="translate(408.25,204.84) scale(0.81,1)" font-size="8.6" fill="#1e1e1e" stroke="#1e1e1e" stroke-width="0.16" text-anchor="start">2nd Btn. Gardehusar-</text>
<text transform="translate(408.25,214.84) scale(0.81,1)" font-size="8.6" fill="#1e1e1e" stroke="#1e1e1e" stroke-width="0.16" text-anchor="start">regimentet</text>
<rect x="375.15" y="231.38" width="31.20" height="17.40" fill="#82c84e" stroke="#3f7222" stroke-width="1"/>
<path d="M375.15,231.38L406.35,248.78M375.15,248.78L406.35,231.38" stroke="#1a5004" stroke-width="1.05"/>
<line x1="387.15" y1="225.38" x2="387.15" y2="230.88" stroke="#3a3a3a" stroke-width="0.85"/>
<line x1="394.35" y1="225.38" x2="394.35" y2="230.88" stroke="#3a3a3a" stroke-width="0.85"/>
<text transform="translate(408.25,239.28) scale(0.81,1)" font-size="8.6" fill="#1e1e1e" stroke="#1e1e1e" stroke-width="0.16" text-anchor="start">4th Btn. Gardehusar-</text>
<text transform="translate(408.25,249.28) scale(0.81,1)" font-size="8.6" fill="#1e1e1e" stroke="#1e1e1e" stroke-width="0.16" text-anchor="start">regimentet</text>
<rect x="375.15" y="265.82" width="31.20" height="17.40" fill="#f7f77c" stroke="#6e6e34" stroke-width="1"/>
<circle cx="390.75" cy="274.82" r="2.2" fill="#000"/>
<line x1="387.15" y1="259.82" x2="387.15" y2="265.32" stroke="#3a3a3a" stroke-width="0.85"/>
<line x1="394.35" y1="259.82" x2="394.35" y2="265.32" stroke="#3a3a3a" stroke-width="0.85"/>
<text transform="translate(408.25,273.72) scale(0.81,1)" font-size="8.6" fill="#1e1e1e" stroke="#1e1e1e" stroke-width="0.16" text-anchor="start">22nd Artillery</text>
<text transform="translate(408.25,283.72) scale(0.81,1)" font-size="8.6" fill="#1e1e1e" stroke="#1e1e1e" stroke-width="0.16" text-anchor="start">Battalion</text>
<rect x="488.35" y="128.00" width="31.20" height="17.00" fill="#82c84e" stroke="#3f7222" stroke-width="1"/>
<path d="M488.35,128.00L519.55,145.00M488.35,145.00L519.55,128.00" stroke="#1a5004" stroke-width="1.05"/>
<line x1="495.95" y1="121.50" x2="495.95" y2="127.50" stroke="#3a3a3a" stroke-width="0.85"/>
<line x1="503.95" y1="121.50" x2="503.95" y2="127.50" stroke="#3a3a3a" stroke-width="0.85"/>
<line x1="511.95" y1="121.50" x2="511.95" y2="127.50" stroke="#3a3a3a" stroke-width="0.85"/>
<text transform="translate(521.45,135.80) scale(0.81,1)" font-size="8.6" fill="#1e1e1e" stroke="#1e1e1e" stroke-width="0.16" text-anchor="start">3rd Zealand (Res.)</text>
<text transform="translate(521.45,145.80) scale(0.81,1)" font-size="8.6" fill="#1e1e1e" stroke="#1e1e1e" stroke-width="0.16" text-anchor="start">Battle Group</text>
<rect x="495.35" y="162.50" width="31.20" height="17.40" fill="#f3d616" stroke="#6a5a00" stroke-width="1"/>
<ellipse cx="510.95" cy="171.20" rx="10.8" ry="3.7" fill="#e98a8a" stroke="#5e1a14" stroke-width="1"/>
<line x1="510.95" y1="156.50" x2="510.95" y2="162.00" stroke="#3a3a3a" stroke-width="0.85"/>
<text transform="translate(528.45,170.40) scale(0.81,1)" font-size="8.6" fill="#1e1e1e" stroke="#1e1e1e" stroke-width="0.16" text-anchor="start">3rd Squadron, 5th Btn.</text>
<text transform="translate(528.45,180.40) scale(0.81,1)" font-size="8.6" fill="#1e1e1e" stroke="#1e1e1e" stroke-width="0.16" text-anchor="start">Gardehusarregimentet</text>
<rect x="495.35" y="196.94" width="31.20" height="17.40" fill="#82c84e" stroke="#3f7222" stroke-width="1"/>
<path d="M495.35,196.94L526.55,214.34M495.35,214.34L526.55,196.94" stroke="#1a5004" stroke-width="1.05"/>
<line x1="507.35" y1="190.94" x2="507.35" y2="196.44" stroke="#3a3a3a" stroke-width="0.85"/>
<line x1="514.55" y1="190.94" x2="514.55" y2="196.44" stroke="#3a3a3a" stroke-width="0.85"/>
<text transform="translate(528.45,204.84) scale(0.81,1)" font-size="8.6" fill="#1e1e1e" stroke="#1e1e1e" stroke-width="0.16" text-anchor="start">3rd Btn. Danske</text>
<text transform="translate(528.45,214.84) scale(0.81,1)" font-size="8.6" fill="#1e1e1e" stroke="#1e1e1e" stroke-width="0.16" text-anchor="start">Livregiment</text>
<rect x="495.35" y="231.38" width="31.20" height="17.40" fill="#82c84e" stroke="#3f7222" stroke-width="1"/>
<path d="M495.35,231.38L526.55,248.78M495.35,248.78L526.55,231.38" stroke="#1a5004" stroke-width="1.05"/>
<line x1="507.35" y1="225.38" x2="507.35" y2="230.88" stroke="#3a3a3a" stroke-width="0.85"/>
<line x1="514.55" y1="225.38" x2="514.55" y2="230.88" stroke="#3a3a3a" stroke-width="0.85"/>
<text transform="translate(528.45,239.28) scale(0.81,1)" font-size="8.6" fill="#1e1e1e" stroke="#1e1e1e" stroke-width="0.16" text-anchor="start">5th Btn. Danske</text>
<text transform="translate(528.45,249.28) scale(0.81,1)" font-size="8.6" fill="#1e1e1e" stroke="#1e1e1e" stroke-width="0.16" text-anchor="start">Livregiment</text>
<rect x="495.35" y="265.82" width="31.20" height="17.40" fill="#f7f77c" stroke="#6e6e34" stroke-width="1"/>
<circle cx="510.95" cy="274.82" r="2.2" fill="#000"/>
<line x1="507.35" y1="259.82" x2="507.35" y2="265.32" stroke="#3a3a3a" stroke-width="0.85"/>
<line x1="514.55" y1="259.82" x2="514.55" y2="265.32" stroke="#3a3a3a" stroke-width="0.85"/>
<text transform="translate(528.45,273.72) scale(0.81,1)" font-size="8.6" fill="#1e1e1e" stroke="#1e1e1e" stroke-width="0.16" text-anchor="start">21st Artillery</text>
<text transform="translate(528.45,283.72) scale(0.81,1)" font-size="8.6" fill="#1e1e1e" stroke="#1e1e1e" stroke-width="0.16" text-anchor="start">Battalion</text>
<rect x="608.55" y="128.00" width="31.20" height="17.00" fill="#82c84e" stroke="#3f7222" stroke-width="1"/>
<path d="M608.55,128.00L639.75,145.00M608.55,145.00L639.75,128.00" stroke="#1a5004" stroke-width="1.05"/>
<line x1="616.15" y1="121.50" x2="616.15" y2="127.50" stroke="#3a3a3a" stroke-width="0.85"/>
<line x1="624.15" y1="121.50" x2="624.15" y2="127.50" stroke="#3a3a3a" stroke-width="0.85"/>
<line x1="632.15" y1="121.50" x2="632.15" y2="127.50" stroke="#3a3a3a" stroke-width="0.85"/>
<text transform="translate(641.65,135.80) scale(0.81,1)" font-size="8.6" fill="#1e1e1e" stroke="#1e1e1e" stroke-width="0.16" text-anchor="start">4th Zealand (Res.)</text>
<text transform="translate(641.65,145.80) scale(0.81,1)" font-size="8.6" fill="#1e1e1e" stroke="#1e1e1e" stroke-width="0.16" text-anchor="start">Battle Group</text>
<rect x="615.55" y="162.50" width="31.20" height="17.40" fill="#f3d616" stroke="#6a5a00" stroke-width="1"/>
<ellipse cx="631.15" cy="171.20" rx="10.8" ry="3.7" fill="#e98a8a" stroke="#5e1a14" stroke-width="1"/>
<line x1="631.15" y1="156.50" x2="631.15" y2="162.00" stroke="#3a3a3a" stroke-width="0.85"/>
<text transform="translate(648.65,170.40) scale(0.81,1)" font-size="8.6" fill="#1e1e1e" stroke="#1e1e1e" stroke-width="0.16" text-anchor="start">4th Squadron, 5th Btn.</text>
<text transform="translate(648.65,180.40) scale(0.81,1)" font-size="8.6" fill="#1e1e1e" stroke="#1e1e1e" stroke-width="0.16" text-anchor="start">Gardehusarregimentet</text>
<rect x="615.55" y="196.94" width="31.20" height="17.40" fill="#82c84e" stroke="#3f7222" stroke-width="1"/>
<path d="M615.55,196.94L646.75,214.34M615.55,214.34L646.75,196.94" stroke="#1a5004" stroke-width="1.05"/>
<line x1="627.55" y1="190.94" x2="627.55" y2="196.44" stroke="#3a3a3a" stroke-width="0.85"/>
<line x1="634.75" y1="190.94" x2="634.75" y2="196.44" stroke="#3a3a3a" stroke-width="0.85"/>
<text transform="translate(648.65,204.84) scale(0.81,1)" font-size="8.6" fill="#1e1e1e" stroke="#1e1e1e" stroke-width="0.16" text-anchor="start">3rd Btn. Sjællandske</text>
<text transform="translate(648.65,214.84) scale(0.81,1)" font-size="8.6" fill="#1e1e1e" stroke="#1e1e1e" stroke-width="0.16" text-anchor="start">Livregiment</text>
<rect x="615.55" y="231.38" width="31.20" height="17.40" fill="#82c84e" stroke="#3f7222" stroke-width="1"/>
<path d="M615.55,231.38L646.75,248.78M615.55,248.78L646.75,231.38" stroke="#1a5004" stroke-width="1.05"/>
<line x1="627.55" y1="225.38" x2="627.55" y2="230.88" stroke="#3a3a3a" stroke-width="0.85"/>
<line x1="634.75" y1="225.38" x2="634.75" y2="230.88" stroke="#3a3a3a" stroke-width="0.85"/>
<text transform="translate(648.65,239.28) scale(0.81,1)" font-size="8.6" fill="#1e1e1e" stroke="#1e1e1e" stroke-width="0.16" text-anchor="start">4th Btn. Sjællandske</text>
<text transform="translate(648.65,249.28) scale(0.81,1)" font-size="8.6" fill="#1e1e1e" stroke="#1e1e1e" stroke-width="0.16" text-anchor="start">Livregiment</text>
<rect x="615.55" y="265.82" width="31.20" height="17.40" fill="#f7f77c" stroke="#6e6e34" stroke-width="1"/>
<circle cx="631.15" cy="274.82" r="2.2" fill="#000"/>
<line x1="627.55" y1="259.82" x2="627.55" y2="265.32" stroke="#3a3a3a" stroke-width="0.85"/>
<line x1="634.75" y1="259.82" x2="634.75" y2="265.32" stroke="#3a3a3a" stroke-width="0.85"/>
<text transform="translate(648.65,273.72) scale(0.81,1)" font-size="8.6" fill="#1e1e1e" stroke="#1e1e1e" stroke-width="0.16" text-anchor="start">14th Artillery</text>
<text transform="translate(648.65,283.72) scale(0.81,1)" font-size="8.6" fill="#1e1e1e" stroke="#1e1e1e" stroke-width="0.16" text-anchor="start">Battalion</text>
<rect x="728.75" y="128.00" width="31.20" height="17.00" fill="#eeee18" stroke="#6a6a10" stroke-width="1"/>
<circle cx="744.35" cy="136.80" r="2.2" fill="#000"/>
<line x1="736.35" y1="121.50" x2="736.35" y2="127.50" stroke="#3a3a3a" stroke-width="0.85"/>
<line x1="744.35" y1="121.50" x2="744.35" y2="127.50" stroke="#3a3a3a" stroke-width="0.85"/>
<line x1="752.35" y1="121.50" x2="752.35" y2="127.50" stroke="#3a3a3a" stroke-width="0.85"/>
<text transform="translate(761.85,135.80) scale(0.81,1)" font-size="8.6" fill="#1e1e1e" stroke="#1e1e1e" stroke-width="0.16" text-anchor="start">Corps Artillery</text>
<rect x="735.75" y="162.50" width="31.20" height="17.40" fill="#eeee18" stroke="#6a6a10" stroke-width="1"/>
<line x1="735.25" y1="168.20" x2="767.45" y2="168.20" stroke="#4a4a00" stroke-width="1.1"/>
<line x1="751.35" y1="156.50" x2="751.35" y2="162.00" stroke="#3a3a3a" stroke-width="0.85"/>
<text transform="translate(768.85,170.40) scale(0.81,1)" font-size="8.6" fill="#1e1e1e" stroke="#1e1e1e" stroke-width="0.16" text-anchor="start">Staff &amp; Target</text>
<text transform="translate(768.85,180.40) scale(0.81,1)" font-size="8.6" fill="#1e1e1e" stroke="#1e1e1e" stroke-width="0.16" text-anchor="start">Acquisition Battery</text>
<rect x="735.75" y="196.94" width="31.20" height="17.40" fill="#eeee18" stroke="#6a6a10" stroke-width="1"/>
<circle cx="751.35" cy="205.94" r="2.2" fill="#000"/>
<line x1="747.75" y1="190.94" x2="747.75" y2="196.44" stroke="#3a3a3a" stroke-width="0.85"/>
<line x1="754.95" y1="190.94" x2="754.95" y2="196.44" stroke="#3a3a3a" stroke-width="0.85"/>
<text transform="translate(768.85,204.84) scale(0.81,1)" font-size="8.6" fill="#1e1e1e" stroke="#1e1e1e" stroke-width="0.16" text-anchor="start">2nd Artillery</text>
<text transform="translate(768.85,214.84) scale(0.81,1)" font-size="8.6" fill="#1e1e1e" stroke="#1e1e1e" stroke-width="0.16" text-anchor="start">Battalion</text>
<rect x="735.75" y="231.38" width="31.20" height="17.40" fill="#eeee18" stroke="#6a6a10" stroke-width="1"/>
<circle cx="751.35" cy="240.38" r="2.2" fill="#000"/>
<line x1="747.75" y1="225.38" x2="747.75" y2="230.88" stroke="#3a3a3a" stroke-width="0.85"/>
<line x1="754.95" y1="225.38" x2="754.95" y2="230.88" stroke="#3a3a3a" stroke-width="0.85"/>
<text transform="translate(768.85,239.28) scale(0.81,1)" font-size="8.6" fill="#1e1e1e" stroke="#1e1e1e" stroke-width="0.16" text-anchor="start">32nd Artillery</text>
<text transform="translate(768.85,249.28) scale(0.81,1)" font-size="8.6" fill="#1e1e1e" stroke="#1e1e1e" stroke-width="0.16" text-anchor="start">Battalion</text>
<rect x="735.75" y="265.82" width="31.20" height="17.40" fill="#eeee18" stroke="#6a6a10" stroke-width="1"/>
<circle cx="751.35" cy="274.82" r="2.2" fill="#000"/>
<line x1="751.35" y1="259.82" x2="751.35" y2="265.32" stroke="#3a3a3a" stroke-width="0.85"/>
<text transform="translate(768.85,273.72) scale(0.81,1)" font-size="8.6" fill="#1e1e1e" stroke="#1e1e1e" stroke-width="0.16" text-anchor="start">17th Heavy</text>
<text transform="translate(768.85,283.72) scale(0.81,1)" font-size="8.6" fill="#1e1e1e" stroke="#1e1e1e" stroke-width="0.16" text-anchor="start">Battery</text>
<rect x="856.50" y="162.50" width="31.20" height="17.40" fill="#f3d616" stroke="#6a5a00" stroke-width="1"/>
<ellipse cx="872.10" cy="171.20" rx="10.8" ry="3.7" fill="#e98a8a" stroke="#5e1a14" stroke-width="1"/>
<line x1="856.50" y1="179.90" x2="887.70" y2="162.50" stroke="#3a3000" stroke-width="1.05"/>
<line x1="868.50" y1="156.50" x2="868.50" y2="162.00" stroke="#3a3a3a" stroke-width="0.85"/>
<line x1="875.70" y1="156.50" x2="875.70" y2="162.00" stroke="#3a3a3a" stroke-width="0.85"/>
<text transform="translate(889.30,170.40) scale(0.81,1)" font-size="8.6" fill="#1e1e1e" stroke="#1e1e1e" stroke-width="0.16" text-anchor="start">3rd Btn. Gardehusar-</text>
<text transform="translate(889.30,180.40) scale(0.81,1)" font-size="8.6" fill="#1e1e1e" stroke="#1e1e1e" stroke-width="0.16" text-anchor="start">regimentet</text>
<rect x="856.50" y="196.94" width="31.20" height="17.40" fill="#5daf12" stroke="#2c6206" stroke-width="1"/>
<path d="M856.50,196.94L887.70,214.34M856.50,214.34L887.70,196.94" stroke="#184a00" stroke-width="1.05"/>
<line x1="868.50" y1="190.94" x2="868.50" y2="196.44" stroke="#3a3a3a" stroke-width="0.85"/>
<line x1="875.70" y1="190.94" x2="875.70" y2="196.44" stroke="#3a3a3a" stroke-width="0.85"/>
<text transform="translate(889.30,204.84) scale(0.81,1)" font-size="8.6" fill="#1e1e1e" stroke="#1e1e1e" stroke-width="0.16" text-anchor="start">4th Btn. Danske</text>
<text transform="translate(889.30,214.84) scale(0.81,1)" font-size="8.6" fill="#1e1e1e" stroke="#1e1e1e" stroke-width="0.16" text-anchor="start">Livregiment</text>
<rect x="856.50" y="231.38" width="31.20" height="17.40" fill="#a6c2f4" stroke="#3a4c80" stroke-width="1"/>
<path d="M856.50,248.28Q872.10,240.28 887.70,248.28" fill="none" stroke="#3a4c80" stroke-width="1"/>
<path d="M869.90,242.38L871.90,237.78L874.10,242.38L872.00,240.68Z" fill="#3a4c80" opacity="0.85"/>
<line x1="868.50" y1="225.38" x2="868.50" y2="230.88" stroke="#3a3a3a" stroke-width="0.85"/>
<line x1="875.70" y1="225.38" x2="875.70" y2="230.88" stroke="#3a3a3a" stroke-width="0.85"/>
<text transform="translate(889.30,239.28) scale(0.81,1)" font-size="8.6" fill="#1e1e1e" stroke="#1e1e1e" stroke-width="0.16" text-anchor="start">13th Air Defense</text>
<text transform="translate(889.30,249.28) scale(0.81,1)" font-size="8.6" fill="#1e1e1e" stroke="#1e1e1e" stroke-width="0.16" text-anchor="start">Battalion</text>
<rect x="856.50" y="265.82" width="31.20" height="17.40" fill="#c8cbe3" stroke="#767ca0" stroke-width="1"/>
<ellipse cx="872.10" cy="274.52" rx="10.8" ry="4" fill="#e67c72" stroke="#5e1a14" stroke-width="1"/>
<path d="M864.10,277.02V272.92H880.30V277.02M872.10,272.92V276.52" fill="none" stroke="#9a3030" stroke-width="0.8"/>
<line x1="868.50" y1="259.82" x2="868.50" y2="265.32" stroke="#3a3a3a" stroke-width="0.85"/>
<line x1="875.70" y1="259.82" x2="875.70" y2="265.32" stroke="#3a3a3a" stroke-width="0.85"/>
<text transform="translate(889.30,273.72) scale(0.81,1)" font-size="8.6" fill="#1e1e1e" stroke="#1e1e1e" stroke-width="0.16" text-anchor="start">1st Engineer</text>
<text transform="translate(889.30,283.72) scale(0.81,1)" font-size="8.6" fill="#1e1e1e" stroke="#1e1e1e" stroke-width="0.16" text-anchor="start">Battalion</text>
<rect x="856.50" y="300.26" width="31.20" height="17.40" fill="#a2dcc6" stroke="#4a8a72" stroke-width="1"/>
<path d="M856.50,300.26L871.00,312.76L873.00,304.76L887.70,317.66" fill="none" stroke="#4a8a72" stroke-width="1"/>
<line x1="868.50" y1="294.26" x2="868.50" y2="299.76" stroke="#3a3a3a" stroke-width="0.85"/>
<line x1="875.70" y1="294.26" x2="875.70" y2="299.76" stroke="#3a3a3a" stroke-width="0.85"/>
<text transform="translate(889.30,308.16) scale(0.81,1)" font-size="8.6" fill="#1e1e1e" stroke="#1e1e1e" stroke-width="0.16" text-anchor="start">1st Signal</text>
<text transform="translate(889.30,318.16) scale(0.81,1)" font-size="8.6" fill="#1e1e1e" stroke="#1e1e1e" stroke-width="0.16" text-anchor="start">Battalion</text>
<rect x="856.50" y="334.70" width="31.20" height="17.40" fill="#a9abef" stroke="#3c3c7a" stroke-width="1"/>
<line x1="856.00" y1="348.70" x2="888.20" y2="348.70" stroke="#3c3c7a" stroke-width="1"/>
<line x1="868.50" y1="328.70" x2="868.50" y2="334.20" stroke="#3a3a3a" stroke-width="0.85"/>
<line x1="875.70" y1="328.70" x2="875.70" y2="334.20" stroke="#3a3a3a" stroke-width="0.85"/>
<text transform="translate(889.30,342.60) scale(0.81,1)" font-size="8.6" fill="#1e1e1e" stroke="#1e1e1e" stroke-width="0.16" text-anchor="start">6th Logistic</text>
<text transform="translate(889.30,352.60) scale(0.81,1)" font-size="8.6" fill="#1e1e1e" stroke="#1e1e1e" stroke-width="0.16" text-anchor="start">Battalion</text>
<rect x="856.50" y="369.14" width="31.20" height="17.40" fill="#f3d616" stroke="#6a5a00" stroke-width="1"/>
<line x1="856.50" y1="386.54" x2="887.70" y2="369.14" stroke="#3a3000" stroke-width="1.05"/>
<rect x="866.30" y="374.64" width="11.3" height="6.6" fill="#f3d616" stroke="#4a3c00" stroke-width="0.9"/>
<text transform="translate(872.00,380.64) scale(0.9,1)" font-size="7.6" font-weight="bold" fill="#2a2000" text-anchor="middle">SF</text>
<line x1="872.10" y1="363.14" x2="872.10" y2="368.64" stroke="#3a3a3a" stroke-width="0.85"/>
<text transform="translate(889.30,377.04) scale(0.81,1)" font-size="8.6" fill="#1e1e1e" stroke="#1e1e1e" stroke-width="0.16" text-anchor="start">Long Range</text>
<text transform="translate(889.30,387.04) scale(0.81,1)" font-size="8.6" fill="#1e1e1e" stroke="#1e1e1e" stroke-width="0.16" text-anchor="start">Reconnaissance Coy.</text>
<rect x="856.50" y="403.58" width="31.20" height="17.40" fill="#a6dad0" stroke="#4a8a80" stroke-width="1"/>
<text transform="translate(872.10,415.68) scale(0.81,1)" font-size="8.6" font-weight="bold" fill="#1f4a44" text-anchor="middle">EW</text>
<line x1="872.10" y1="397.58" x2="872.10" y2="403.08" stroke="#3a3a3a" stroke-width="0.85"/>
<text transform="translate(889.30,411.48) scale(0.81,1)" font-size="8.6" fill="#1e1e1e" stroke="#1e1e1e" stroke-width="0.16" text-anchor="start">Electronic Warfare</text>
<text transform="translate(889.30,421.48) scale(0.81,1)" font-size="8.6" fill="#1e1e1e" stroke="#1e1e1e" stroke-width="0.16" text-anchor="start">Company</text>
<rect x="856.50" y="438.02" width="31.20" height="17.40" fill="#ffffff" stroke="#9a9a9a" stroke-width="1"/>
<text transform="translate(872.10,450.12) scale(0.81,1)" font-size="8.6" fill="#1e1e1e" stroke="#1e1e1e" stroke-width="0.22" text-anchor="middle">MP</text>
<line x1="872.10" y1="432.02" x2="872.10" y2="437.52" stroke="#3a3a3a" stroke-width="0.85"/>
<text transform="translate(889.30,445.92) scale(0.81,1)" font-size="8.6" fill="#1e1e1e" stroke="#1e1e1e" stroke-width="0.16" text-anchor="start">6th Military Police</text>
<text transform="translate(889.30,455.92) scale(0.81,1)" font-size="8.6" fill="#1e1e1e" stroke="#1e1e1e" stroke-width="0.16" text-anchor="start">Company</text>
</svg>
</body></html>
